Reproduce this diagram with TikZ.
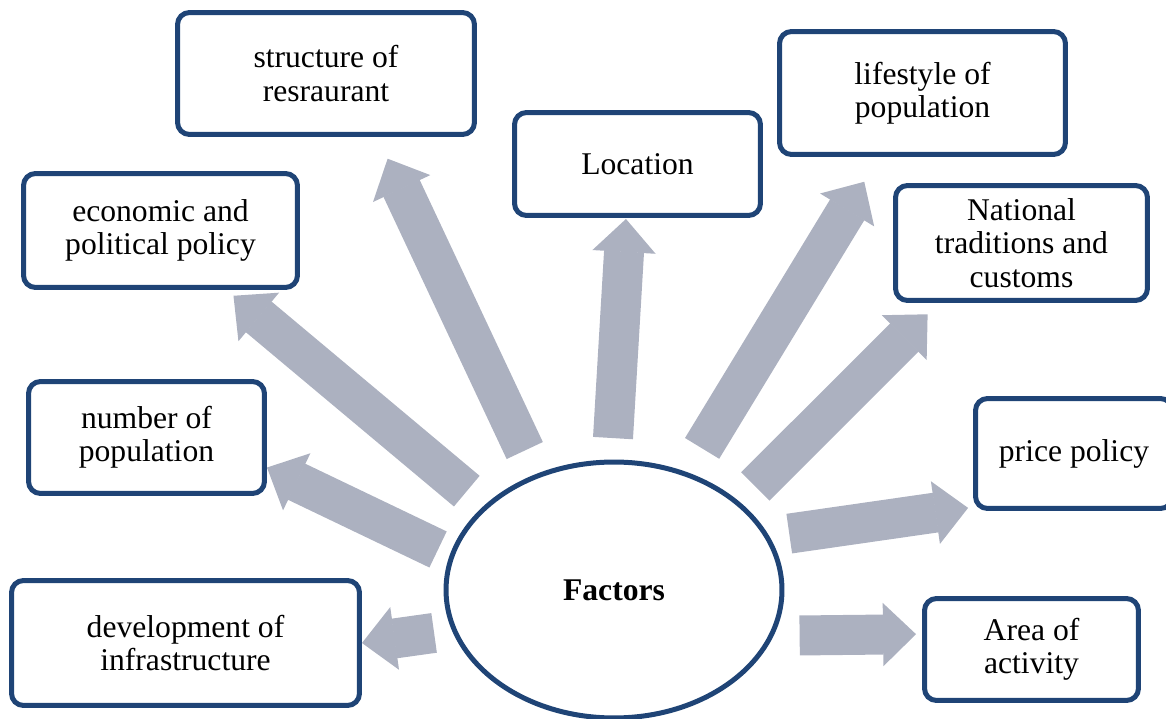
\documentclass[tikz,border=0pt]{standalone}
\usepackage{fontspec}
\setmainfont{Liberation Serif}
\usetikzlibrary{arrows.meta,shapes.geometric}
\definecolor{boxblue}{RGB}{31,68,118}
\definecolor{arrowgray}{RGB}{172,177,192}
\tikzset{
  factor/.style={draw=boxblue, line width=0.1cm, rounded corners=0.24cm,
    align=center, inner sep=2pt, font=\fontsize{18}{19}\selectfont},
  bigarrow/.style={draw=arrowgray, line width=0.8cm,
    -{Triangle[width=1.26cm,length=0.66cm,line width=1pt]}},
}

\begin{document}
\begin{tikzpicture}[x=0.02cm,y=-0.02cm]
  \clip (0,0) rectangle (1166,719);
  \node[ellipse, draw=boxblue, line width=0.1cm, minimum width=6.72cm, minimum height=5.12cm,
    font=\fontsize{18}{19}\selectfont\bfseries] (factors) at (614,590) {Factors};

  \node[factor, minimum width=5.94cm, minimum height=2.44cm] (struct) at (326,73.5) {structure of\\resraurant};
  \node[factor, minimum width=4.92cm, minimum height=2.06cm] (loc) at (637.5,164) {Location};
  \node[factor, minimum width=5.72cm, minimum height=2.46cm] (life) at (922.5,93) {lifestyle of\\population};
  \node[factor, minimum width=5.48cm, minimum height=2.28cm] (econ) at (160.5,230.5) {economic and\\political policy};
  \node[factor, minimum width=5.04cm, minimum height=2.30cm] (nat) at (1021.5,243) {National\\traditions and\\customs};
  \node[factor, minimum width=4.72cm, minimum height=2.24cm] (num) at (146.5,437.5) {number of\\population};
  \node[factor, minimum width=3.94cm, minimum height=2.20cm] (price) at (1074,453.5) {price policy};
  \node[factor, minimum width=6.96cm, minimum height=2.50cm] (dev) at (185.5,643) {development of\\infrastructure};
  \node[factor, minimum width=4.28cm, minimum height=2.04cm] (area) at (1031.5,649.5) {Area of\\activity};

  \draw[bigarrow, shorten <=0.36cm] (factors.194) -- (dev.east);
  \draw[bigarrow, shorten <=0.26cm] (factors.168) -- (num.-14);
  \draw[bigarrow, shorten <=0.45cm, shorten >=0.18cm] (factors.147) -- (econ.-42);
  \draw[bigarrow, shorten <=0.52cm, shorten >=0.48cm] (factors.124) -- (struct.-51);
  \draw[bigarrow, shorten <=0.43cm, shorten >=0.02cm] (factors.91) -- (loc.-102);
  \draw[bigarrow, shorten <=0.56cm, shorten >=0.58cm] (factors.58) -- (life.236);
  \draw[bigarrow, shorten <=0.44cm, shorten >=0.32cm] (factors.35) -- (nat.216);
  \draw[bigarrow, shorten <=0.40cm, shorten >=0.10cm] (factors.19) -- (price.208);
  \draw[bigarrow, shorten <=0.52cm, shorten >=0.12cm] (factors.-16) -- (area.172);
\end{tikzpicture}
\end{document}
